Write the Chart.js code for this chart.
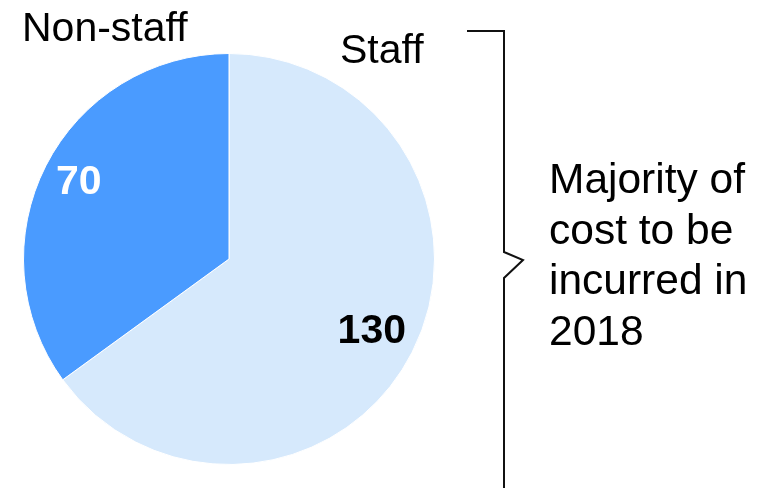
<!DOCTYPE html>
<html lang="en">
<head>
  <meta charset="UTF-8" />
  <title>Staff vs non-staff cost</title>
  <script src="https://cdn.jsdelivr.net/npm/chart.js"></script>
  <style>
    html, body { margin: 0; padding: 0; background: #fff; }
    #wrap { width: 765px; height: 488px; position: relative; }
  </style>
</head>
<body>
  <div id="wrap"><canvas id="costPie"></canvas></div>

  <script>
    const categories = ['Staff', 'Non-staff'];
    const costValues = [130, 70];
    const sliceColors = ['#D6E9FC', '#4A9BFF'];
    const valueColors = ['#000000', '#FFFFFF'];
    const labelRadius = [0.78, 0.82];
    const noteLines = ['Majority of', 'cost to be', 'incurred in', '2018'];

    // labels, numbers and the bracket on the right
    const overlay = {
      id: 'overlay',
      afterDatasetsDraw(chart) {
        const ctx = chart.ctx;
        const arcs = chart.getDatasetMeta(0).data;
        ctx.save();

        // values inside slices
        ctx.font = 'bold 41px "Liberation Sans", Arial, sans-serif';
        ctx.textAlign = 'center';
        ctx.textBaseline = 'middle';
        arcs.forEach((arc, i) => {
          const mid = (arc.startAngle + arc.endAngle) / 2;
          const r = arc.outerRadius * labelRadius[i];
          ctx.fillStyle = valueColors[i];
          ctx.fillText(costValues[i], arc.x + Math.cos(mid) * r, arc.y + Math.sin(mid) * r);
        });

        // category names
        ctx.fillStyle = '#000';
        ctx.textAlign = 'left';
        ctx.textBaseline = 'alphabetic';
        ctx.font = '41px "Liberation Sans", Arial, sans-serif';
        ctx.fillText(categories[1], 22, 41);
        ctx.fillText(categories[0], 340, 63);

        // note text
        ctx.font = '42.5px "Liberation Sans", Arial, sans-serif';
        noteLines.forEach((t, i) => ctx.fillText(t, 549, 193 + i * 50.7));

        // bracket
        ctx.strokeStyle = '#111';
        ctx.lineWidth = 2;
        ctx.lineJoin = 'miter';
        ctx.beginPath();
        ctx.moveTo(467, 31);
        ctx.lineTo(504, 31);
        ctx.lineTo(504, 252);
        ctx.lineTo(523, 260);
        ctx.lineTo(504, 278);
        ctx.lineTo(504, 490);
        ctx.stroke();

        ctx.restore();
      }
    };

    new Chart(document.getElementById('costPie'), {
      type: 'pie',
      data: {
        labels: categories,
        datasets: [{
          data: costValues,
          backgroundColor: sliceColors,
          borderColor: '#FFFFFF',
          borderWidth: 1
        }]
      },
      options: {
        responsive: true,
        maintainAspectRatio: false,
        animation: false,
        layout: { padding: { left: 23, top: 53, right: 330, bottom: 23 } },
        plugins: {
          legend: { display: false },
          tooltip: { enabled: false }
        }
      },
      plugins: [overlay]
    });
  </script>
</body>
</html>
